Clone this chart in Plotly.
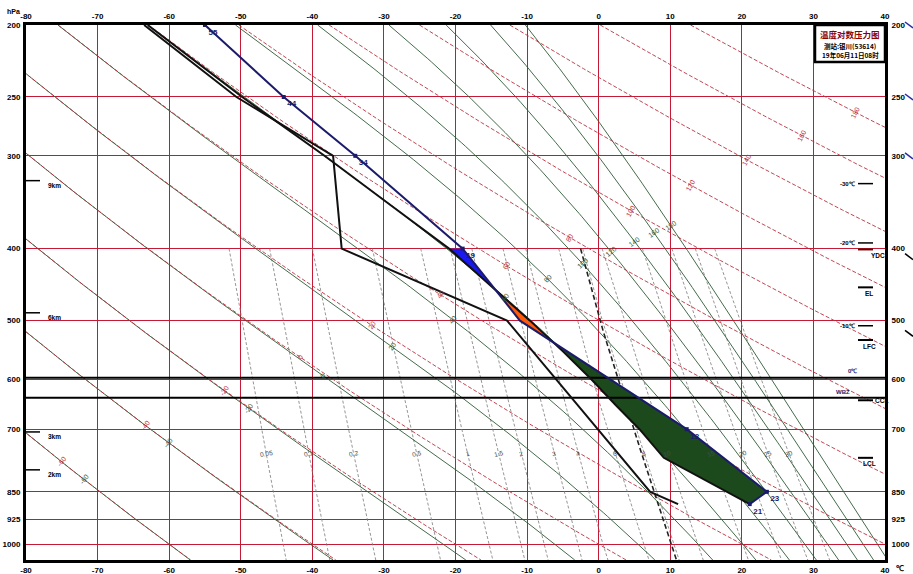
import numpy as np
import plotly.graph_objects as go

# ---------------- data ----------------
T_TICKS = [-80, -70, -60, -50, -40, -30, -20, -10, 0, 10, 20, 30, 40]
P_LEVELS = [200, 250, 300, 400, 500, 600, 700, 850, 925, 1000]
P_LABELS = ["200", "250", "300", "400", "500", "600", "700", "850", "925", "1000"]

# environmental temperature (navy line)
ENV_P = [883, 850, 700, 500, 400, 300, 250, 200]
ENV_T = [21.1, 23.5, 12.3, -11.0, -19.0, -34.0, -44.0, -55.0]
ENV_LABEL_P = [883, 850, 700, 400, 300, 250, 200]
ENV_LABEL_T = [21.1, 23.5, 12.3, -19.0, -34.0, -44.0, -55.0]
ENV_LABELS = ["21", "23", "12", "19", "34", "44", "55"]

# dew point (black line)
DEW_P = [883, 850, 500, 400, 300, 250, 200]
DEW_T = [11.1, 7.2, -12.8, -35.9, -37.1, -50.6, -63.5]

# lifted parcel (black line)
PAR_P = [883, 850, 800, 765, 700, 650, 600, 550, 500, 450, 400, 350, 300, 250, 200]
PAR_T = [21.1, 17.9, 12.8, 9.1, 5.7, 2.4, -1.0, -5.0, -9.6, -15.0, -20.9, -29.0, -38.3, -49.8, -63.0]
AREA_TOP_P = 400

# background families
DRY_THETA = [-60, -40, -20, 0, 20, 40, 60, 80, 100, 120, 140, 160, 180]
MOIST_THSE = [-60, -40, -20, 0, 20, 40, 60, 80, 100, 120, 140, 160, 180]
MIX_W = [0.05, 0.1, 0.2, 0.5, 1, 1.5, 2, 3, 4, 6, 8, 10, 15, 20, 25, 30]
MIX_LABELS = ["0.05", "0.1", "0.2", "0.5", "1", "1.5", "2", "3", "4", "6", "8", "10", "15", "20", "25", "30"]
MIX_LABEL_P = 755
ISOHUME_W = 7.8

# special levels
ZERO_P = 597
WBZ_P = 635
ISO_MARK_LABELS = ["-30℃", "-20℃", "-10℃"]
ISO_MARK_P = [327, 393, 508]
KEY_LABELS = ["YDC", "EL", "LFC", "CCL", "LCL"]
KEY_P = [401, 451, 531, 640, 765]
HEIGHT_LABELS = ["9km", "6km", "3km", "2km"]
HEIGHT_P = [324, 488, 706, 794]
# clipped wind barbs at the right edge (levels, colours)
BARB_P = [200, 250, 300, 410, 520]
BARB_COLORS = ["#2a2aa0", "#2a2aa0", "#2a2aa0", "black", "black"]

TITLE = "温度对数压力图"
SUB1 = "测站:银川(53614)"
SUB2 = "19年06月11日08时"

# ---------------- geometry / styles ----------------
SX0, SX1, SY0, SY1 = 26, 885, 25, 560   # plot area on the page
FW, FH = 913, 574
ML, MT = SX0, SY0
MR = FW - SX1
MB = FH - SY1
PW = SX1 - SX0
PH = SY1 - SY0
T_MIN, T_MAX = -80, 40
P_TOP, P_BOT = 200, 1050
LNR = np.log(P_BOT / P_TOP)

FONT = "Liberation Sans"
RED = "#c41a36"
DRED = "#b8323e"
GREEN = "#2f5a36"
NAVY = "#1b1b6b"


def sx(T):
    return SX0 + (np.asarray(T, float) - T_MIN) / (T_MAX - T_MIN) * PW


def sy(p):
    return SY0 + np.log(np.asarray(p, float) / P_TOP) / LNR * PH


def from_screen(x, y):
    T = T_MIN + (x - SX0) / PW * (T_MAX - T_MIN)
    p = P_TOP * np.exp((y - SY0) / PH * LNR)
    return T, p


def px(xp):
    return (xp - SX0) / PW


def py(yp):
    return (SY1 - yp) / PH


def es_w(Tc):
    return 6.112 * np.exp(17.67 * Tc / (Tc + 243.5))


def td_from_e(e):
    lw = np.log(e / 6.112)
    t_ice = lw * 272.62 / (22.46 - lw)
    t_w = lw * 243.5 / (17.67 - lw)
    return np.where(lw < 0, t_ice, t_w)


def theta_e(Tc, p):
    T = Tc + 273.15
    es = np.minimum(es_w(Tc), 0.5 * p)
    ws = 0.622 * es / (p - es)
    return T * (1000.0 / p) ** 0.286 * np.exp(2.5e6 * ws / (1004.0 * T))


def moist_T(thse_c, p):
    target = thse_c + 273.15
    lo = np.full_like(p, -130.0)
    hi = np.full_like(p, 60.0)
    for _ in range(60):
        mid = 0.5 * (lo + hi)
        f = theta_e(mid, p) > target
        hi = np.where(f, mid, hi)
        lo = np.where(f, lo, mid)
    return 0.5 * (lo + hi)


def dry_T(theta_c, p):
    return (theta_c + 273.15) * (p / 1000.0) ** 0.286 - 273.15


def mix_T(w, p):
    e = w * p / (622.0 + w)
    return td_from_e(e)


def label_on_anchor(T, p, A, B):
    x, y = sx(T), sy(p)
    d = (x - A[0]) * (B[1] - A[1]) - (y - A[1]) * (B[0] - A[0])
    idx = np.where(np.sign(d[:-1]) != np.sign(d[1:]))[0]
    if len(idx) == 0:
        return None
    i = idx[0]
    f = d[i] / (d[i] - d[i + 1])
    xi = x[i] + f * (x[i + 1] - x[i])
    yi = y[i] + f * (y[i + 1] - y[i])
    ang = np.degrees(np.arctan2(y[i + 1] - y[i], x[i + 1] - x[i]))
    if ang < 0:
        ang += 180
    Ti, pi = from_screen(xi, yi)
    return Ti, pi, ang - 90


def interp_lp(pt, parr, tarr):
    lp = np.log(np.asarray(parr, float))[::-1]
    return np.interp(np.log(pt), lp, np.asarray(tarr, float)[::-1])


fig = go.Figure()
annotations = []
pgrid = np.geomspace(P_TOP, P_BOT, 160)


def family_trace(lines, color, width, dash):
    xs, ys = [], []
    for T, p in lines:
        xs += list(T) + [None]
        ys += list(p) + [None]
    fig.add_trace(go.Scatter(x=xs, y=ys, mode="lines", hoverinfo="skip", showlegend=False,
                             line=dict(color=color, width=width, dash=dash)))


# mixing ratio lines
mgrid = np.geomspace(400, P_BOT, 80)
mix_lines = [(mix_T(w, mgrid), mgrid) for w in MIX_W]
family_trace(mix_lines, "#7a7a7a", 0.8, "3px,2px")
for w, lab in zip(MIX_W, MIX_LABELS):
    pp = np.array([MIX_LABEL_P * 0.98, MIX_LABEL_P * 1.02])
    tt = mix_T(w, pp)
    ang = np.degrees(np.arctan2(sy(pp[1]) - sy(pp[0]), sx(tt[1]) - sx(tt[0])))
    tl = float(mix_T(w, np.array([MIX_LABEL_P]))[0])
    annotations.append(dict(x=tl, y=np.log10(MIX_LABEL_P), text=lab, showarrow=False,
                            textangle=ang - 90, font=dict(size=6.5, color="#4a4a4a", family=FONT)))

# moist adiabats
moist_lines = [(moist_T(th, pgrid), pgrid) for th in MOIST_THSE]
family_trace(moist_lines, GREEN, 0.9, "solid")
# dry adiabats
dry_lines = [(dry_T(th, pgrid), pgrid) for th in DRY_THETA]
family_trace(dry_lines, DRED, 0.9, "4px,2px")

for th, (T, p) in zip(DRY_THETA, dry_lines):
    r = label_on_anchor(T, p, (66, 460), (865, 108))
    if r:
        annotations.append(dict(x=r[0], y=np.log10(r[1]), text=str(th), showarrow=False, textangle=r[2],
                                font=dict(size=7, color=DRED, family=FONT)))
for th, (T, p) in zip(MOIST_THSE, moist_lines):
    r = label_on_anchor(T, p, (89, 477), (672, 225))
    if r:
        annotations.append(dict(x=r[0], y=np.log10(r[1]), text=str(th), showarrow=False, textangle=r[2],
                                font=dict(size=7, color=GREEN, family=FONT)))

# isohume (thick dashed)
fig.add_trace(go.Scatter(x=mix_T(ISOHUME_W, mgrid), y=mgrid, mode="lines", hoverinfo="skip", showlegend=False,
                         line=dict(color="#222", width=1.6, dash="5px,3px")))

# energy areas
lpg = np.linspace(np.log(ENV_P[0]), np.log(AREA_TOP_P), 500)
pg = np.exp(lpg)
te = interp_lp(pg, ENV_P, ENV_T)
tp = interp_lp(pg, PAR_P, PAR_T)
d = tp - te
sgn = np.sign(np.where(np.abs(d) < 1e-9, 0, d))
segs = []
cur = None
for i in range(1, len(pg)):
    s = sgn[i]
    if s == 0:
        continue
    if cur is None:
        cur = s
        seg_p = [pg[i - 1]]
        seg_e = [te[i - 1]]
        seg_q = [tp[i - 1]]
    if s != cur:
        f = d[i - 1] / (d[i - 1] - d[i])
        pc = np.exp(lpg[i - 1] + f * (lpg[i] - lpg[i - 1]))
        tc = te[i - 1] + f * (te[i] - te[i - 1])
        seg_p.append(pc); seg_e.append(tc); seg_q.append(tc)
        segs.append((cur, seg_p, seg_e, seg_q))
        seg_p, seg_e, seg_q = [pc], [tc], [tc]
        cur = s
    seg_p.append(pg[i]); seg_e.append(te[i]); seg_q.append(tp[i])
segs.append((cur, seg_p, seg_e, seg_q))
neg_count = 0
for s, sp, se, sq in segs:
    if s > 0:
        col = "#ff5a0a"
    else:
        col = "#1d4a1d" if neg_count == 0 else "#1a1af0"
        neg_count += 1
    fig.add_trace(go.Scatter(x=list(se) + list(sq[::-1]), y=list(sp) + list(sp[::-1]), fill="toself",
                             fillcolor=col, mode="lines", line=dict(width=0), hoverinfo="skip",
                             showlegend=False))

# 0 C and WBZ levels
for lev in [ZERO_P, WBZ_P]:
    fig.add_trace(go.Scatter(x=[T_MIN, T_MAX], y=[lev, lev], mode="lines", hoverinfo="skip",
                             showlegend=False, line=dict(color="black", width=2)))

# sounding curves
fig.add_trace(go.Scatter(x=DEW_T, y=DEW_P, mode="lines", hoverinfo="skip", showlegend=False,
                         line=dict(color="#111", width=2)))
fig.add_trace(go.Scatter(x=PAR_T, y=PAR_P, mode="lines", hoverinfo="skip", showlegend=False,
                         line=dict(color="#111", width=2)))
fig.add_trace(go.Scatter(x=ENV_T, y=ENV_P, mode="lines", hoverinfo="skip", showlegend=False,
                         line=dict(color=NAVY, width=2)))
fig.add_trace(go.Scatter(x=ENV_LABEL_T, y=ENV_LABEL_P, mode="markers+text", text=ENV_LABELS,
                         textposition="bottom right", hoverinfo="skip", showlegend=False,
                         marker=dict(symbol="square", size=4, color=NAVY),
                         textfont=dict(size=8, color=NAVY, family=FONT, weight="bold")))

# left height marks
mk_x0 = T_MIN
mk_x1 = from_screen(40, 0)[0]
for lab, p in zip(HEIGHT_LABELS, HEIGHT_P):
    fig.add_trace(go.Scatter(x=[mk_x0, mk_x1], y=[p, p], mode="lines", hoverinfo="skip", showlegend=False,
                             line=dict(color="black", width=1.5)))
    annotations.append(dict(x=from_screen(46, 0)[0], y=np.log10(p), text=lab, showarrow=False, xanchor="left",
                            yshift=-5, font=dict(size=6.5, color="black", family=FONT, weight="bold")))

# right marks
rx0 = from_screen(858, 0)[0]
rx1 = from_screen(873, 0)[0]
for lab, p in zip(ISO_MARK_LABELS, ISO_MARK_P):
    fig.add_trace(go.Scatter(x=[rx0, rx1], y=[p, p], mode="lines", hoverinfo="skip", showlegend=False,
                             line=dict(color="black", width=1.5)))
    annotations.append(dict(x=rx0, y=np.log10(p), text=lab, showarrow=False, xanchor="right", xshift=-1,
                            font=dict(size=6, color="black", family=FONT, weight="bold")))
for lab, p in zip(KEY_LABELS, KEY_P):
    fig.add_trace(go.Scatter(x=[rx0, rx1], y=[p, p], mode="lines", hoverinfo="skip", showlegend=False,
                             line=dict(color="#6b0000" if lab == "YDC" else "black", width=2)))
    if lab == "CCL":
        annotations.append(dict(x=rx1, y=np.log10(p), text=lab, showarrow=False, xanchor="left",
                                font=dict(size=6.5, color="black", family=FONT, weight="bold")))
    else:
        annotations.append(dict(x=rx1, y=np.log10(p), text=lab, showarrow=False, xanchor="center",
                                xshift=-4 if lab != "YDC" else 5, yshift=-6,
                                font=dict(size=6.5, color="black", family=FONT, weight="bold")))
annotations.append(dict(x=from_screen(852, 0)[0], y=np.log10(ZERO_P), text="0℃", showarrow=False, yshift=7,
                        font=dict(size=6, color=NAVY, family=FONT, weight="bold")))
annotations.append(dict(x=from_screen(843, 0)[0], y=np.log10(WBZ_P), text="WBZ", showarrow=False, yshift=6,
                        font=dict(size=6, color=NAVY, family=FONT, weight="bold")))

# dummy trace to show top / right axes
fig.add_trace(go.Scatter(x=[0], y=[500], xaxis="x2", yaxis="y2", mode="markers",
                         marker=dict(opacity=0), hoverinfo="skip", showlegend=False))

# title box
shapes = [dict(type="rect", xref="paper", yref="paper", x0=px(815), x1=1.0, y0=py(62), y1=1.0,
               fillcolor="white", line=dict(color="black", width=2.5), layer="above")]
# clipped wind barbs beyond the right axis labels
for p, c in zip(BARB_P, BARB_COLORS):
    yb = float(sy(p))
    shapes.append(dict(type="line", xref="paper", yref="paper", x0=px(905), x1=px(913),
                       y0=py(yb - 3), y1=py(yb + 3), line=dict(color=c, width=1.5), layer="above"))


def paper_text(x, y, text, size, color, family=FONT):
    annotations.append(dict(xref="paper", yref="paper", x=px(x), y=py(y), text=text, showarrow=False,
                            xanchor="center", yanchor="middle",
                            font=dict(size=size, color=color, family=family)))


paper_text(850, 34, "<b>" + TITLE + "</b>", 8.5, "#8b0000", "Noto Sans CJK SC")
paper_text(850, 46, "<b>" + SUB1 + "</b>", 6.5, "black", "Noto Sans CJK SC")
paper_text(850, 55, "<b>" + SUB2 + "</b>", 6.5, "black", "Noto Sans CJK SC")
paper_text(13, 12, "<b>hPa</b>", 7, "black")
paper_text(900, 568, "<b>℃</b>", 8, "black")

tickfont = dict(size=8, color="black", family=FONT, weight="bold")
xcommon = dict(range=[T_MIN, T_MAX], tickmode="array", tickvals=T_TICKS, ticktext=[str(t) for t in T_TICKS],
               tickfont=tickfont, ticks="", showline=True, linecolor="black", linewidth=3, zeroline=False,
               automargin=False)
ycommon = dict(type="log", range=[np.log10(P_BOT), np.log10(P_TOP)], tickmode="array", tickvals=P_LEVELS,
               ticktext=P_LABELS, tickfont=tickfont, ticks="", showline=True, linecolor="black",
               linewidth=3, zeroline=False, automargin=False)

fig.update_layout(
    width=FW, height=FH, margin=dict(l=ML, r=MR, t=MT, b=MB, pad=0, autoexpand=False),
    paper_bgcolor="white", plot_bgcolor="white", hovermode=False, showlegend=False,
    xaxis=dict(**xcommon, showgrid=True, gridcolor=RED, gridwidth=1, mirror=True, ticklabelstandoff=0),
    xaxis2=dict(**xcommon, overlaying="x", side="top", showgrid=False, ticklabelstandoff=0),
    yaxis=dict(**ycommon, showgrid=True, gridcolor=RED, gridwidth=1, mirror=True, ticklabelstandoff=1),
    yaxis2=dict(**ycommon, overlaying="y", side="right", showgrid=False, ticklabelstandoff=2),
    shapes=shapes, annotations=annotations,
)

# the page body margin is removed so that the 913x574 figure fills the window exactly
fig.write_html("out.html", config={"displayModeBar": False, "staticPlot": True},
               post_script="document.body.style.margin='0px';")
